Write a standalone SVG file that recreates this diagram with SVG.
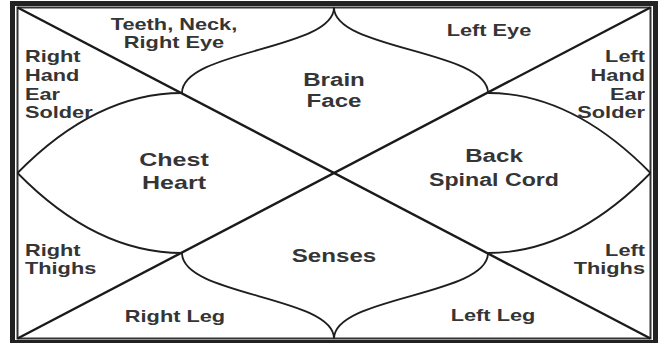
<svg xmlns="http://www.w3.org/2000/svg" width="663" height="343" viewBox="0 0 663 343">
<style>
.frame-outer{fill:none;stroke:#222;stroke-width:5}
.frame-inner{fill:none;stroke:#333;stroke-width:2}
.diag{fill:none;stroke:#1a1a1a;stroke-width:2.4}
.curve{fill:none;stroke:#1e1e1e;stroke-width:1.8}
text{font-family:"Liberation Sans",Arial,sans-serif;font-weight:bold;fill:#353535}
.s{font-size:17px}
.c{font-size:19px}
.m{text-anchor:middle}
.e{text-anchor:end}
</style>
<rect width="663" height="343" fill="#fff"/>
<g id="connectors">
<rect class="frame-outer" x="12.5" y="3.5" width="643" height="339"/>
<rect class="frame-inner" x="17.5" y="7.5" width="633" height="331"/>
<line class="diag" x1="17.5" y1="7.5" x2="650.5" y2="338.5"/>
<line class="diag" x1="650.5" y1="7.5" x2="17.5" y2="338.5"/>
<path class="curve" d="M334,7.5 C334,50 182,50 182,93"/>
<path class="curve" d="M334,7.5 C334,50 488,50 488,93"/>
<path class="curve" d="M334,338.5 C334,296 182,296 182,253"/>
<path class="curve" d="M334,338.5 C334,296 488,296 488,253"/>
<path class="curve" d="M17.5,173 Q96,93 182,93"/>
<path class="curve" d="M17.5,173 Q96,253 182,253"/>
<path class="curve" d="M650.5,173 Q572,93 488,93"/>
<path class="curve" d="M650.5,173 Q572,253 488,253"/>
</g>
<g id="house-teeth">
<text class="s m" transform="translate(174,30) scale(1.28,1)">Teeth, Neck,</text>
<text class="s m" transform="translate(174,48) scale(1.28,1)">Right Eye</text>
</g>
<g id="house-lefteye">
<text class="s m" transform="translate(489,36) scale(1.28,1)">Left Eye</text>
</g>
<g id="house-brain">
<text class="c m" transform="translate(334,86) scale(1.27,1)">Brain</text>
<text class="c m" transform="translate(334,107) scale(1.27,1)">Face</text>
</g>
<g id="house-righthand">
<text class="s" transform="translate(25,62) scale(1.28,1)">Right</text>
<text class="s" transform="translate(25,81) scale(1.28,1)">Hand</text>
<text class="s" transform="translate(25,100) scale(1.28,1)">Ear</text>
<text class="s" transform="translate(25,118) scale(1.28,1)">Solder</text>
</g>
<g id="house-lefthand">
<text class="s e" transform="translate(645,62) scale(1.28,1)">Left</text>
<text class="s e" transform="translate(645,81) scale(1.28,1)">Hand</text>
<text class="s e" transform="translate(645,100) scale(1.28,1)">Ear</text>
<text class="s e" transform="translate(645,118) scale(1.28,1)">Solder</text>
</g>
<g id="house-chest">
<text class="c m" transform="translate(174,166) scale(1.32,1)">Chest</text>
<text class="c m" transform="translate(174,189) scale(1.32,1)">Heart</text>
</g>
<g id="house-back">
<text class="c m" transform="translate(494,162) scale(1.27,1)">Back</text>
<text class="c m" transform="translate(494,186) scale(1.22,1)">Spinal Cord</text>
</g>
<g id="house-senses">
<text class="c m" transform="translate(334,262) scale(1.27,1)">Senses</text>
</g>
<g id="house-rightthighs">
<text class="s" transform="translate(25,256) scale(1.28,1)">Right</text>
<text class="s" transform="translate(25,274) scale(1.28,1)">Thighs</text>
</g>
<g id="house-leftthighs">
<text class="s e" transform="translate(645,256) scale(1.28,1)">Left</text>
<text class="s e" transform="translate(645,274) scale(1.28,1)">Thighs</text>
</g>
<g id="house-rightleg">
<text class="s m" transform="translate(175,322) scale(1.28,1)">Right Leg</text>
</g>
<g id="house-leftleg">
<text class="s m" transform="translate(493,321) scale(1.28,1)">Left Leg</text>
</g>
</svg>
